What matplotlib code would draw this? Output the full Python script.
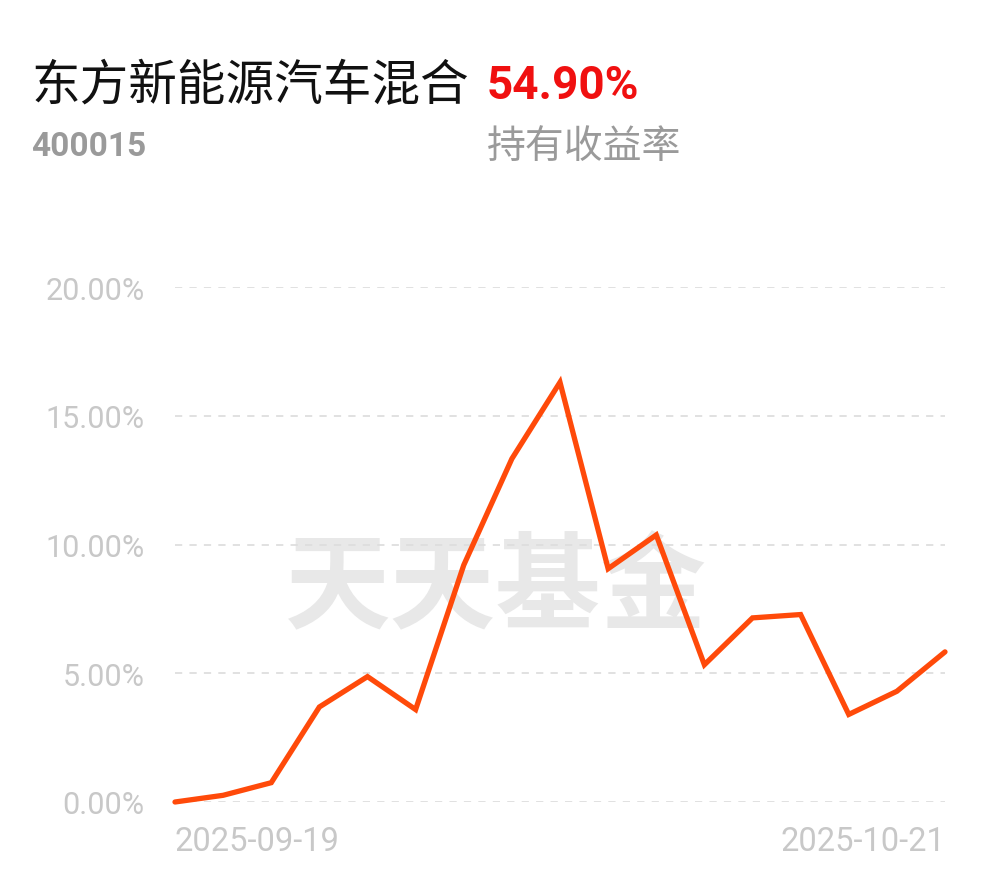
import matplotlib
matplotlib.use('Agg')
import matplotlib.pyplot as plt

fund_name = '东方新能源汽车混合'
fund_code = '400015'
hold_return = '54.90%'
return_label = '持有收益率'

dates = ['2025-09-19', '2025-09-22', '2025-09-23', '2025-09-24', '2025-09-25',
         '2025-09-26', '2025-09-29', '2025-09-30', '2025-10-09', '2025-10-10',
         '2025-10-13', '2025-10-14', '2025-10-15', '2025-10-16', '2025-10-17',
         '2025-10-20', '2025-10-21']
returns = [0.0, 0.26, 0.75, 3.69, 4.87, 3.59, 9.20, 13.33, 16.30, 9.06,
           10.37, 5.33, 7.15, 7.28, 3.40, 4.30, 5.83]
y_ticks = [0, 5, 10, 15, 20]

latin = ['Roboto', 'DejaVu Sans']
cjk = ['Noto Sans CJK SC', 'DejaVu Sans']

fig = plt.figure(figsize=(9.9, 8.78), dpi=100)
ax = fig.add_axes([175 / 990, 75 / 878, 770 / 990, 515 / 878])

x = list(range(len(dates)))

# watermark
ax.text(0.417, 0.414, '天天基金', transform=ax.transAxes, ha='center', va='center',
        fontsize=76, fontweight='bold', color='#e8e8e8', family=cjk, zorder=0)

for t in y_ticks:
    ax.axhline(t, color='#dedede', linestyle=(0, (4, 4)), linewidth=1.3, zorder=1)

ax.plot(x, returns, color='#ff4a0a', linewidth=3.8, solid_joinstyle='miter',
        solid_capstyle='round', clip_on=False, zorder=3)

ax.set_xlim(0, len(dates) - 1)
ax.set_ylim(0, 20)
ax.set_yticks(y_ticks)
ax.set_yticklabels([f'{t:.2f}%' for t in y_ticks], family='Roboto', fontsize=22,
                   color='#c8c8c8')
ax.tick_params(axis='y', length=0, pad=22)
ax.set_xticks([])
for s in ax.spines.values():
    s.set_visible(False)

# x-axis end labels
ax.text(0, -0.045, dates[0], transform=ax.get_xaxis_transform(), ha='left', va='top',
        family=latin, fontsize=23.5, color='#c8c8c8')
ax.text(len(dates) - 1, -0.045, dates[-1], transform=ax.get_xaxis_transform(),
        ha='right', va='top', family=latin, fontsize=23.5, color='#c8c8c8')

# header
fig.text(32 / 990, 1 - 86 / 878, fund_name, ha='left', va='center', family=cjk,
         fontsize=35, color='#111111')
fig.text(487 / 990, 1 - 86 / 878, hold_return, ha='left', va='center', family=latin,
         fontsize=33, fontweight='bold', color='#f01010')
fig.text(31 / 990, 1 - 147 / 878, fund_code, ha='left', va='center', family=latin,
         fontsize=24, fontweight='bold', color='#9a9a9a')
fig.text(487 / 990, 1 - 147 / 878, return_label, ha='left', va='center', family=cjk,
         fontsize=28, color='#9a9a9a')

fig.savefig('out.png', dpi=100)
